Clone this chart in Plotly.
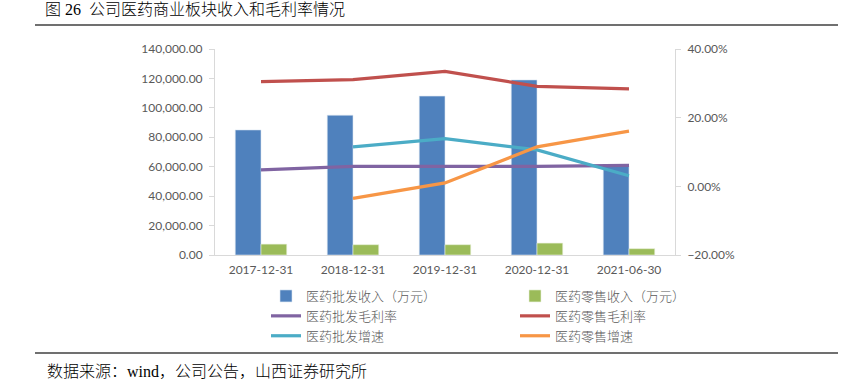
import plotly.graph_objects as go

categories = ["2017-12-31", "2018-12-31", "2019-12-31", "2020-12-31", "2021-06-30"]
wholesale_rev = [85000, 95000, 108000, 119000, 60500]
retail_rev = [7400, 7000, 7000, 8100, 4300]
wholesale_margin = [0.048, 0.058, 0.058, 0.058, 0.061]
retail_margin = [0.305, 0.311, 0.335, 0.291, 0.284]
wholesale_growth = [None, 0.115, 0.139, 0.106, 0.031]
retail_growth = [None, -0.035, 0.010, 0.115, 0.161]

names = ["医药批发收入（万元）", "医药零售收入（万元）", "医药批发毛利率",
         "医药零售毛利率", "医药批发增速", "医药零售增速"]
title_text = "图 26  公司医药商业板块收入和毛利率情况"
source_text = "数据来源：wind，公司公告，山西证券研究所"

W, H = 864, 379
ML, MR, MT, MB = 215, 189, 49, 124
PW, PH = W - ML - MR, H - MT - MB


def px_x(x):
    return (x - ML) / PW


def px_y(y):
    return (H - MB - y) / PH


axis_font = dict(family="Lato, Carlito, sans-serif", size=12, color="#595959")
cjk = "Liberation Serif, Noto Sans CJK SC, serif"

fig = go.Figure()
fig.add_trace(go.Bar(x=categories, y=wholesale_rev, name=names[0],
                     marker=dict(color="#4F81BD", line=dict(color="#DCE6F2", width=0.6))))
fig.add_trace(go.Bar(x=categories, y=retail_rev, name=names[1],
                     marker=dict(color="#9BBB59", line=dict(color="#EBF1DE", width=0.6))))
line_specs = [(wholesale_margin, "#8064A2"), (retail_margin, "#C0504D"),
              (wholesale_growth, "#4BACC6"), (retail_growth, "#F79646")]
for i, (vals, col) in enumerate(line_specs):
    fig.add_trace(go.Scatter(x=categories, y=vals, name=names[i + 2], yaxis="y2",
                             mode="lines", line=dict(color=col, width=3.2)))

fig.update_layout(
    width=W, height=H,
    margin=dict(l=ML, r=MR, t=MT, b=MB),
    paper_bgcolor="white", plot_bgcolor="white",
    barmode="group", bargap=0.44, bargroupgap=0,
    xaxis=dict(type="category", showgrid=False, showline=True, linecolor="#D9D9D9",
               linewidth=1, ticks="", tickfont=axis_font, ticklabelstandoff=4),
    yaxis=dict(range=[0, 140000], dtick=20000, tickformat=",.2f", showgrid=False,
               showline=True, linecolor="#D9D9D9", ticks="outside", ticklen=5,
               tickcolor="#D9D9D9", tickfont=axis_font, zeroline=False,
               ticklabelstandoff=4),
    yaxis2=dict(range=[-0.2, 0.4], dtick=0.2, tickformat=".2%", overlaying="y",
                side="right", showgrid=False, showline=True, linecolor="#D9D9D9",
                ticks="outside", ticklen=5, tickcolor="#D9D9D9", tickfont=axis_font,
                zeroline=False, ticklabelstandoff=4),
    showlegend=True,
    legend=dict(orientation="h", x=px_x(764), xanchor="right", y=px_y(281), yanchor="top",
                entrywidth=204, entrywidthmode="pixels", traceorder="normal",
                font=dict(family="Noto Sans CJK SC, sans-serif", size=13, color="#595959",
                          weight=300),
                bgcolor="rgba(0,0,0,0)", tracegroupgap=0, itemwidth=30),
    title=dict(text=title_text, x=45 / W, xanchor="left", y=1 - 9 / H, yanchor="middle",
               font=dict(family=cjk, size=16, color="#000000", weight=300)),
    annotations=[dict(text=source_text, xref="paper", yref="paper", x=px_x(45), y=px_y(371),
                      xanchor="left", yanchor="middle", showarrow=False,
                      font=dict(family=cjk, size=16, color="#000000", weight=300))],
    shapes=[dict(type="line", xref="paper", yref="paper", x0=px_x(35), x1=px_x(838),
                 y0=px_y(25), y1=px_y(25), line=dict(color="#404040", width=1.3)),
            dict(type="line", xref="paper", yref="paper", x0=px_x(35), x1=px_x(838),
                 y0=px_y(353), y1=px_y(353), line=dict(color="#404040", width=1.3))],
)

fig.write_html("out.html", config={"displayModeBar": False},
               post_script="document.body.style.margin='0';document.body.style.overflow='hidden';")
